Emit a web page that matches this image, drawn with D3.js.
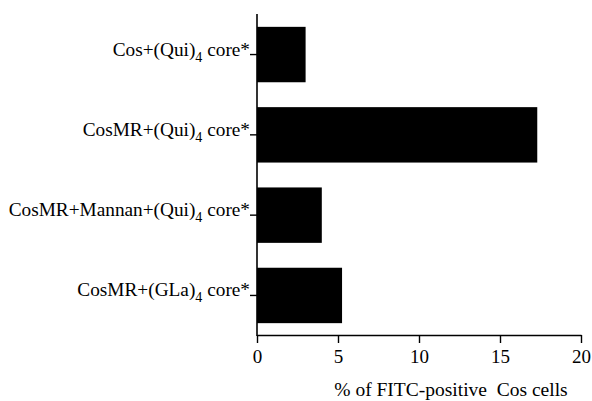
<!DOCTYPE html>
<html lang="en">
<head>
<meta charset="UTF-8">
<title>FITC-positive Cos cells</title>
<script src="https://cdn.jsdelivr.net/npm/d3@7"></script>
<style>
  body { margin: 0; background: #fff; }
</style>
</head>
<body>
<script>
// data
var labelMain = ["Cos+(Qui)", "CosMR+(Qui)", "CosMR+Mannan+(Qui)", "CosMR+(GLa)"];
var labelSub = ["4", "4", "4", "4"];
var labelTail = [" core*", " core*", " core*", " core*"];
var values = [3.0, 17.3, 4.0, 5.25];
var xTicks = [0, 5, 10, 15, 20];
var xTitle = "% of FITC-positive  Cos cells";

var serif = "'Liberation Serif', 'Times New Roman', serif";
var width = 592, height = 401;
var svg = d3.select("body").append("svg").attr("width", width).attr("height", height);

var x = d3.scaleLinear().domain([0, 20]).range([257, 581]);
var y = d3.scaleBand().domain(d3.range(values.length)).range([15, 335])
    .paddingInner(0.31).paddingOuter(0.1475);

// bars
svg.selectAll("rect.bar").data(values).enter().append("rect")
    .attr("class", "bar")
    .attr("x", x(0))
    .attr("y", function (d, i) { return y(i); })
    .attr("width", function (d) { return x(d) - x(0); })
    .attr("height", y.bandwidth())
    .attr("fill", "#000");

// y axis
svg.append("line").attr("x1", x(0)).attr("x2", x(0)).attr("y1", 14).attr("y2", 336)
    .attr("stroke", "#000").attr("stroke-width", 1.6);
var yt = svg.selectAll("g.ytick").data(values).enter().append("g")
    .attr("class", "ytick")
    .attr("transform", function (d, i) { return "translate(0," + (y(i) + y.bandwidth() / 2) + ")"; });
yt.append("line").attr("x1", x(0) - 7).attr("x2", x(0)).attr("stroke", "#000").attr("stroke-width", 1.4);
var lab = yt.append("text").attr("x", x(0) - 7).attr("y", 1).attr("text-anchor", "end")
    .style("font-family", serif).style("font-size", "19.3px");
lab.append("tspan").text(function (d, i) { return labelMain[i]; });
lab.append("tspan").attr("dy", 6).style("font-size", "14px").text(function (d, i) { return labelSub[i]; });
lab.append("tspan").attr("dy", -6).text(function (d, i) { return labelTail[i]; });

// x axis
var gx = svg.append("g").attr("transform", "translate(0,335)")
    .call(d3.axisBottom(x).tickValues(xTicks).tickSize(8).tickPadding(7).tickSizeOuter(0));
gx.select(".domain").attr("stroke-width", 1.6);
gx.selectAll(".tick line").attr("stroke-width", 1.4);
gx.selectAll(".tick text").style("font-family", serif).style("font-size", "19px");

svg.append("text").attr("x", 451).attr("y", 396).attr("text-anchor", "middle")
    .style("white-space", "pre").style("font-family", serif).style("font-size", "19.5px")
    .text(xTitle);
</script>
</body>
</html>
